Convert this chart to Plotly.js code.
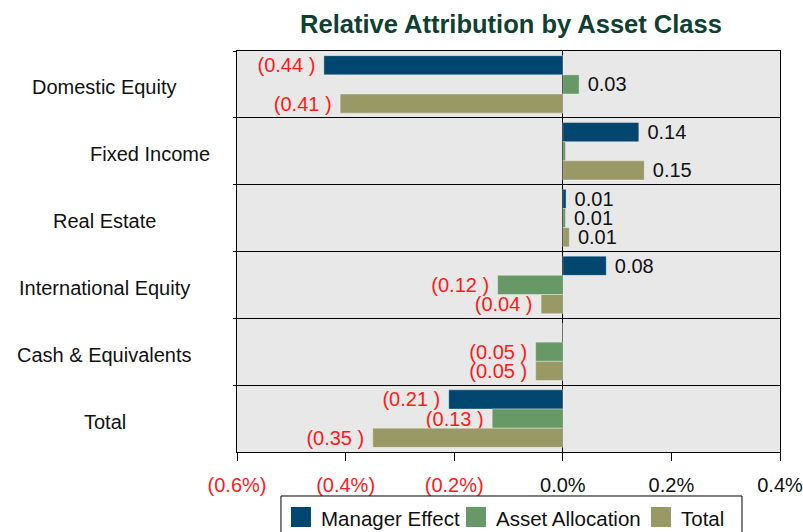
<!DOCTYPE html>
<html>
<head>
<meta charset="utf-8">
<script src="https://cdn.plot.ly/plotly-3.0.1.min.js"></script>
<style>html,body{margin:0;padding:0;background:#fff;}#chart{width:803px;height:532px;}</style>
</head>
<body>
<div id="chart"></div>
<script>
const categories = ["Domestic Equity", "Fixed Income", "Real Estate", "International Equity", "Cash & Equivalents", "Total"];
const seriesNames = ["Manager Effect", "Asset Allocation", "Total"];
const managerEffect = [-0.44, 0.14, 0.006, 0.08, 0, -0.21];
const assetAllocation = [0.03, 0.005, 0.005, -0.12, -0.05, -0.13];
const totalEffect = [-0.41, 0.15, 0.012, -0.04, -0.05, -0.35];
const managerLabels = ["(0.44 )", "0.14", "0.01", "0.08", "", "(0.21 )"];
const allocationLabels = ["0.03", "", "0.01", "(0.12 )", "(0.05 )", "(0.13 )"];
const totalLabels = ["(0.41 )", "0.15", "0.01", "(0.04 )", "(0.05 )", "(0.35 )"];
const tickVals = [-0.6, -0.4, -0.2, 0.0, 0.2, 0.4];
const tickLabels = ["(0.6%)", "(0.4%)", "(0.2%)", "0.0%", "0.2%", "0.4%"];

const FONT = "Liberation Sans, Arial, sans-serif";
const seriesColors = ["#00466e", "#669966", "#999966"];
const RED = "#ff1a1a", INK = "#111111";
const NB = "\u00a0";

function labelColors(vals){ return vals.map(v => v < 0 ? RED : INK); }
function padLabels(labels, vals){
  return labels.map((t, i) => t === "" ? "" : (vals[i] < 0 ? t + NB : NB + t));
}

function mk(idx, vals, labels){
  return {
    type: "bar", orientation: "h", name: seriesNames[idx],
    y: categories, x: vals, text: padLabels(labels, vals),
    textposition: "outside", cliponaxis: false, constraintext: "none",
    textfont: {family: FONT, size: 20, color: labelColors(vals)},
    marker: {color: seriesColors[idx], line: {color: "rgba(255,255,255,0.35)", width: 1}},
    showlegend: false, hoverinfo: "x+y"
  };
}

const data = [
  mk(0, managerEffect, managerLabels),
  mk(1, assetAllocation, allocationLabels),
  mk(2, totalEffect, totalLabels)
];

// category labels, centred in the left margin
const labelShift = {"Fixed Income": 45};
const annotations = categories.map(c => ({
  xref: "paper", yref: "y", x: -0.244, y: c, yshift: -3, xshift: labelShift[c] || 0,
  text: c, showarrow: false, xanchor: "center", yanchor: "middle",
  font: {family: FONT, size: 20, color: INK}
}));

// manual legend (bigger square swatches, box clipped at the bottom like the reference)
const swX = [0.0994, 0.4217, 0.7624];
const swW = 0.0368;
const shapes = [
  {type: "rect", xref: "paper", yref: "paper", x0: 0.081, x1: 0.930, y0: -0.23, y1: -0.1097,
   line: {color: "#000", width: 1}, fillcolor: "#fff", layer: "above"}
];
seriesNames.forEach((n, i) => {
  shapes.push({type: "rect", xref: "paper", yref: "paper", x0: swX[i], x1: swX[i] + swW,
    y0: -0.187, y1: -0.137, line: {width: 0}, fillcolor: seriesColors[i], layer: "above"});
  annotations.push({xref: "paper", yref: "paper", x: swX[i] + swW + 0.0155, y: -0.166,
    xanchor: "left", yanchor: "middle", showarrow: false, text: n,
    font: {family: FONT, size: 20.5, color: INK}});
});

const layout = {
  width: 803, height: 532,
  margin: {l: 237, r: 23, t: 51, b: 80, autoexpand: false},
  paper_bgcolor: "#ffffff", plot_bgcolor: "#e8e8e8",
  barmode: "group", bargap: 0.14, bargroupgap: 0,
  title: {text: "<b>Relative Attribution by Asset Class</b>", x: 0.5046, xref: "paper", xanchor: "center",
    y: 0.955, yref: "container", yanchor: "middle",
    font: {family: FONT, size: 25.5, color: "#0f4033"}},
  font: {family: FONT, color: INK},
  xaxis: {
    range: [-0.6, 0.4], tickmode: "array", tickvals: tickVals,
    ticktext: tickLabels.map((t, i) => tickVals[i] < 0 ? '<span style="color:' + RED + '">' + t + '</span>' : t),
    showgrid: false, zeroline: true, zerolinecolor: "#000", zerolinewidth: 1,
    showline: true, linecolor: "#000", linewidth: 1, mirror: true,
    ticks: "outside", ticklen: 8, tickcolor: "#000", ticklabelstandoff: 7,
    ticklabeloverflow: "allow",
    tickfont: {family: FONT, size: 20, color: INK}, fixedrange: true
  },
  yaxis: {
    type: "category", autorange: "reversed", categoryorder: "array", categoryarray: categories,
    showticklabels: false, tickson: "boundaries", showgrid: true, gridcolor: "#000", gridwidth: 1,
    showline: true, linecolor: "#000", linewidth: 1, mirror: true,
    ticks: "outside", ticklen: 3, tickcolor: "#000", fixedrange: true
  },
  annotations: annotations,
  shapes: shapes,
  showlegend: false
};

Plotly.newPlot("chart", data, layout, {displayModeBar: false, staticPlot: true});
</script>
</body>
</html>
